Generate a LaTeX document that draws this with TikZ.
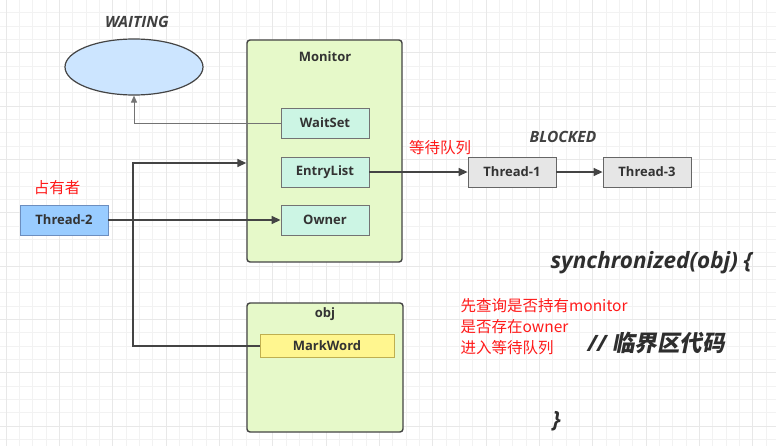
\documentclass[tikz,border=0pt]{standalone}
\usepackage{fontspec}
\setmainfont{Open Sans}
\newfontfamily\cjk{Noto Sans CJK SC}
\newfontfamily\cjkslant[FakeSlant=0.2,UprightFont=* Bold]{Noto Sans CJK SC}
\usetikzlibrary{arrows.meta,shapes.geometric}

\definecolor{inkgray}{HTML}{444444}
\definecolor{monitorgreen}{HTML}{E6F9C9}
\definecolor{slotmint}{HTML}{CCF5E4}
\definecolor{ownerblue}{HTML}{99CCFF}
\definecolor{ownerline}{HTML}{6C8EBF}
\definecolor{queuegray}{HTML}{E6E6E6}
\definecolor{markyellow}{HTML}{FFF68F}
\definecolor{markline}{HTML}{BFAF50}
\definecolor{waitblue}{HTML}{CCE5FF}
\definecolor{notered}{HTML}{FF1A1A}

\begin{document}
\begin{tikzpicture}[
  x=1pt, y=-1pt,
  font=\fontsize{13}{15}\selectfont\bfseries, text=black!80,
  gridminor/.style={draw=black!5, line width=0.8pt},
  gridmajor/.style={draw=black!9, line width=0.9pt},
  cell/.style={rectangle, minimum width=88pt, minimum height=30pt,
               inner sep=0pt, draw=black!55, line width=0.9pt},
  slot/.style={cell, fill=slotmint},
  queued/.style={cell, fill=queuegray, draw=black!60},
  holder/.style={cell, fill=ownerblue, draw=ownerline},
  frame/.style={rectangle, rounded corners=3pt, draw=inkgray, line width=1.4pt,
                fill=monitorgreen, inner sep=0pt},
  state/.style={font=\fontsize{15.5}{17}\selectfont\bfseries\itshape, text=black!75},
  note/.style={font=\fontsize{15.5}{21}\selectfont\cjk, text=notered, align=left},
  conn/.style={draw=inkgray, line width=1.6pt, -{Triangle[length=9pt,width=8pt]}},
  thinconn/.style={draw=black!55, line width=0.9pt, -{Triangle[length=7pt,width=6pt]}},
  code/.style={font=\fontsize{22.5}{26}\selectfont\bfseries\itshape, text=black!82}
]
\useasboundingbox (0,0) rectangle (776,446);
\fill[white] (0,0) rectangle (776,446);
% background grid
\foreach \i in {0,...,58}{
  \pgfmathsetmacro\gx{6+13.333*\i}
  \draw[gridminor] (\gx,0) -- (\gx,446);}
\foreach \j in {0,...,34}{
  \pgfmathsetmacro\gy{-0.6+13.333*\j}
  \draw[gridminor] (0,\gy) -- (776,\gy);}
\foreach \i in {0,...,14}{
  \pgfmathsetmacro\gx{6+53.333*\i}
  \draw[gridmajor] (\gx,0) -- (\gx,446);}
\foreach \j in {0,...,8}{
  \pgfmathsetmacro\gy{-0.6+53.333*\j}
  \draw[gridmajor] (0,\gy) -- (776,\gy);}

% waiting set
\node[state] (waitlbl) at (137,22) {WAITING};
\node[ellipse, draw=inkgray, line width=1.2pt, fill=waitblue,
      minimum width=138pt, minimum height=56pt] (waiting) at (134,67) {};

% monitor
\node[frame, minimum width=155pt, minimum height=222pt] (monitor) at (324.5,151) {};
\node (monitorlbl) at (325,57) {Monitor};
\node[slot] (waitset) at (325,123) {WaitSet};
\node[slot] (entry)   at (325,172) {EntryList};
\node[slot] (owner)   at (325,220) {Owner};

% object header
\node[frame, minimum width=156pt, minimum height=129pt] (obj) at (325,367.5) {};
\node (objlbl) at (325,314) {obj};
\node[cell, fill=markyellow, draw=markline, minimum width=134pt,
      minimum height=23pt] (mark) at (327,346) {MarkWord};

% threads
\node[holder] (t2) at (64,220) {Thread-2};
\node[note] (holdlbl) at (57,188) {占有者};
\node[queued] (t1) at (512,172) {Thread-1};
\node[queued] (t3) at (647,172) {Thread-3};
\node[state] (blocklbl) at (563,137) {BLOCKED};
\node[note] (queuelbl) at (440,148) {等待队列};

% connectors
\coordinate (turn) at (133,163);
\draw[thinconn] (waitset.west) -| (waiting.south);
\draw[conn] (mark.west) -| (turn) -- (monitor.west |- turn);
\draw[conn] (t2) -- (owner);
\draw[conn] (entry) -- (t1);
\draw[conn] (t1) -- (t3);

% code
\node[code, anchor=west] (sync) at (547,263) {synchronized(obj) \{};
\node[note, anchor=north west] (steps) at (457,295)
  {先查询是否持有monitor\\是否存在owner\\进入等待队列};
\node[code, anchor=west] (crit) at (584,343) {// {\cjkslant 临界区代码}};
\node[code, anchor=west] (close) at (549,421) {\}};
\end{tikzpicture}
\end{document}
